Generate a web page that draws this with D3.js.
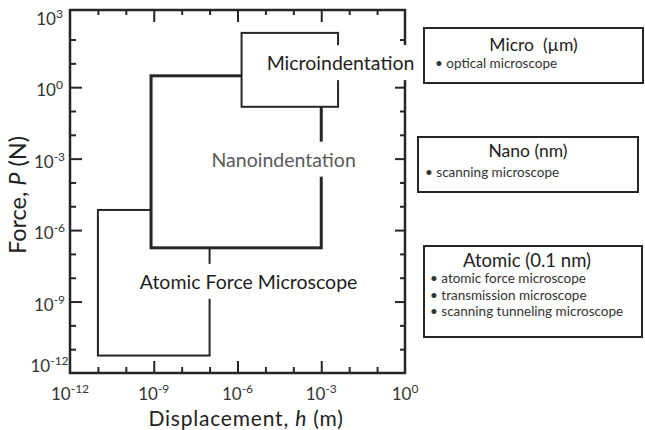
<!DOCTYPE html>
<html>
<head>
<meta charset="utf-8">
<script src="https://cdn.jsdelivr.net/npm/d3@7"></script>
<style>
  body { margin: 0; background: #fff; }
  svg { display: block; font-family: Lato, "Open Sans", sans-serif; }
</style>
</head>
<body>
<svg id="chart" width="645" height="430"></svg>
<script>
// Régions (force / déplacement) de chaque technique
const regions = ["Atomic Force Microscope", "Nanoindentation", "Microindentation"];
const hMin = [1e-11, 8e-10, 1.4e-6];
const hMax = [1e-7, 1e-3, 4e-3];
const pMin = [5.4e-12, 1.8e-7, 0.15];
const pMax = [7e-6, 3, 190];
// position des étiquettes, en unités des données
const labelH = [2.5e-6, 4.5e-5, 4.9e-3];
const labelP = [3.4e-9, 4.6e-4, 5.2];

// Graduations (exposants)
const xExps = [-12, -9, -6, -3, 0];
const yExps = [3, 0, -3, -6, -9, -12];

// Légende à droite
const legendTitles = ["Micro\u00a0\u00a0(\u00b5m)", "Nano (nm)", "Atomic (0.1 nm)"];
const legendItems = [
  ["optical microscope"],
  ["scanning microscope"],
  ["atomic force microscope", "transmission microscope", "scanning tunneling microscope"]
];

const ink = "#262626";
const svg = d3.select("#chart");

// le cadre monte un peu au-dessus de 10^3 comme sur la figure d'origine
const yTop = Math.pow(10, 3.24);
const x = d3.scaleLog().domain([1e-12, 1e0]).range([70, 405]);
const y = d3.scaleLog().domain([1e-12, yTop]).range([373, 10]);

const decadesX = d3.range(-11, 0).map(e => Math.pow(10, e));
const decadesY = d3.range(-11, 3).map(e => Math.pow(10, e));
const isMajor = v => Math.round(Math.log10(v)) % 3 === 0;

// Axes : petites et grandes graduations vers l'intérieur
function ticks(axisFn, scale, vals, size, transform) {
  const g = svg.append("g")
    .attr("transform", transform)
    .call(axisFn(scale).tickValues(vals).tickSize(-size).tickFormat(""));
  g.select(".domain").remove();
  g.selectAll("line").attr("stroke", ink).attr("stroke-width", 2);
}
const majX = decadesX.filter(isMajor), minX = decadesX.filter(v => !isMajor(v));
const majY = decadesY.filter(isMajor), minY = decadesY.filter(v => !isMajor(v));
ticks(d3.axisBottom, x, majX, 12, `translate(0,${y(1e-12)})`);
ticks(d3.axisBottom, x, minX, 6, `translate(0,${y(1e-12)})`);
ticks(d3.axisTop, x, majX, 12, `translate(0,${y(yTop)})`);
ticks(d3.axisTop, x, minX, 5, `translate(0,${y(yTop)})`);
ticks(d3.axisLeft, y, majY, 12, `translate(${x(1e-12)},0)`);
ticks(d3.axisLeft, y, minY, 6, `translate(${x(1e-12)},0)`);
ticks(d3.axisRight, y, majY, 10, `translate(${x(1e0)},0)`);
ticks(d3.axisRight, y, minY, 5, `translate(${x(1e0)},0)`);

svg.append("rect")
  .attr("x", x(1e-12)).attr("y", y(yTop))
  .attr("width", x(1e0) - x(1e-12)).attr("height", y(1e-12) - y(yTop))
  .attr("fill", "none").attr("stroke", ink).attr("stroke-width", 2.5);

// Étiquettes 10^n
function powLabel(sel) {
  sel.append("tspan").text("10");
  sel.append("tspan").attr("dy", -7).attr("font-size", 12).text(d => d);
}
svg.append("g").selectAll("text").data(xExps).join("text")
  .attr("x", d => x(Math.pow(10, d)))
  .attr("y", 400)
  .attr("text-anchor", "middle")
  .attr("font-size", 17).attr("fill", "#333")
  .call(powLabel);
svg.append("g").selectAll("text").data(yExps).join("text")
  .attr("x", 49.5)
  .attr("y", d => Math.min(y(Math.pow(10, d)) + 9, 372))
  .attr("text-anchor", "middle")
  .attr("font-size", 17).attr("fill", "#333")
  .call(powLabel);

// Titres des axes
const xt = svg.append("text").attr("x", 246).attr("y", 426)
  .attr("text-anchor", "middle").attr("font-size", 21)
  .attr("letter-spacing", 0.8).attr("fill", "#222");
xt.append("tspan").text("Displacement, ");
xt.append("tspan").attr("font-style", "italic").text("h");
xt.append("tspan").text(" (m)");
const yt = svg.append("text").attr("transform", "translate(26,195) rotate(-90)")
  .attr("text-anchor", "middle").attr("font-size", 23.5).attr("fill", "#222");
yt.append("tspan").text("Force, ");
yt.append("tspan").attr("font-style", "italic").text("P");
yt.append("tspan").text(" (N)");

// Boîtes (dessinées dans l'ordre, fond blanc)
svg.append("g").selectAll("rect").data(regions).join("rect")
  .attr("x", (d, i) => x(hMin[i]))
  .attr("y", (d, i) => y(pMax[i]))
  .attr("width", (d, i) => x(hMax[i]) - x(hMin[i]))
  .attr("height", (d, i) => y(pMin[i]) - y(pMax[i]))
  .attr("fill", "#fff")
  .attr("stroke", ink)
  .attr("stroke-width", (d, i) => i === 1 ? 3 : 2);

// Étiquettes avec fond blanc
regions.forEach((name, i) => {
  const g = svg.append("g");
  const bg = g.append("rect").attr("fill", "#fff");
  const t = g.append("text")
    .attr("x", x(labelH[i])).attr("y", y(labelP[i]))
    .attr("text-anchor", "middle")
    .attr("font-size", 19.5)
    .attr("fill", i === 1 ? "#5a5a5a" : "#1e1e1e")
    .text(name);
  const b = t.node().getBBox();
  bg.attr("x", b.x - 3).attr("width", b.width + 6)
    .attr("y", y(labelP[i]) - 25).attr("height", 35);
});

// Légende
const boxes = [
  { x: 424, y: 28, w: 219, h: 55, title: 51, item: 68, fs: 17.5, pad: 11 },
  { x: 418, y: 137, w: 220, h: 55, title: 157, item: 177, fs: 17.5, pad: 7 },
  { x: 424, y: 246, w: 218, h: 91, title: 267, item: 283, fs: 18.5, pad: 6 }
];
boxes.forEach((b, i) => {
  svg.append("rect")
    .attr("x", b.x).attr("y", b.y).attr("width", b.w).attr("height", b.h)
    .attr("fill", "#fff").attr("stroke", ink).attr("stroke-width", 2);
  svg.append("text")
    .attr("x", b.x + b.w / 2 - (i === 2 ? 6 : 0)).attr("y", b.title)
    .attr("text-anchor", "middle").attr("font-size", b.fs).attr("fill", "#222")
    .text(legendTitles[i]);
  legendItems[i].forEach((it, j) => {
    svg.append("text")
      .attr("x", b.x + b.pad).attr("y", b.item + j * 16.5)
      .attr("font-size", 13.5).attr("fill", "#333")
      .text("\u2022 " + it);
  });
});
</script>
</body>
</html>
